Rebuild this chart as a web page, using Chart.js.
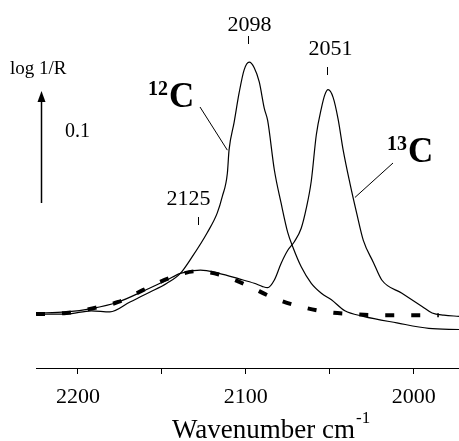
<!DOCTYPE html>
<html>
<head>
<meta charset="utf-8">
<script src="https://cdn.jsdelivr.net/npm/chart.js@4.4.0/dist/chart.umd.min.js"></script>
<style>
    html, body { margin: 0; padding: 0; background: #fff; }
    #wrap { width: 459px; height: 441px; }
</style>
</head>
<body>
<div id="wrap"><canvas id="chart"></canvas></div>
<script>
// wavenumber (cm-1) / log 1/R readings, left to right
const wn12C = [2225, 2207, 2192, 2181, 2169, 2157, 2147, 2139, 2132, 2123, 2117, 2114, 2111, 2110, 2107, 2104,
    2101, 2098, 2095, 2092, 2089, 2087, 2083, 2079, 2075, 2072, 2067, 2061, 2055, 2049, 2041, 2030, 2010, 1991, 1973];
const abs12C = [0.049, 0.049, 0.052, 0.051, 0.060, 0.069, 0.077, 0.086, 0.101, 0.123, 0.141, 0.156, 0.177, 0.198, 0.223, 0.250,
    0.271, 0.278, 0.273, 0.260, 0.236, 0.225, 0.180, 0.150, 0.123, 0.110, 0.092, 0.077, 0.068, 0.062, 0.052, 0.047, 0.041, 0.036, 0.035];

const wn13C = [2225, 2207, 2192, 2176, 2161, 2147, 2139, 2127, 2116, 2104, 2095, 2090, 2087, 2083, 2079, 2075, 2071, 2067,
    2064, 2061, 2058, 2055, 2053, 2051, 2048, 2045, 2042, 2038, 2034, 2030, 2024, 2019, 2007, 1995, 1989, 1982, 1973];
const abs13C = [0.050, 0.051, 0.054, 0.060, 0.070, 0.080, 0.086, 0.089, 0.086, 0.081, 0.077, 0.074, 0.073, 0.080, 0.095, 0.107, 0.115, 0.127,
    0.145, 0.170, 0.212, 0.236, 0.248, 0.253, 0.246, 0.226, 0.198, 0.168, 0.141, 0.116, 0.096, 0.080, 0.068, 0.056, 0.050, 0.048, 0.047];

const wnFit = [2225, 2207, 2192, 2176, 2161, 2145, 2129, 2116, 2099, 2084, 2068, 2052, 2036, 2021, 2005, 1989, 1985];
const absFit = [0.049, 0.050, 0.054, 0.060, 0.071, 0.082, 0.088, 0.085, 0.075, 0.064, 0.056, 0.051, 0.049, 0.048, 0.048, 0.048, 0.048];

const axisTicks = [2200, 2150, 2100, 2050, 2000];
const labelledTicks = [2200, 2100, 2000];

const peakLabels = ['2098', '2051', '2125'];
const peakWavenumbers = [2098, 2051, 2128];

const scaleBar = [0.15, 0.25];  // arrow = 0.1 log 1/R

const serif = "'Liberation Serif', 'Times New Roman', serif";

const toPoints = (xs, ys) => xs.map((x, i) => ({x: x, y: ys[i]}));

const annotate = {
    id: 'annotate',
    afterDraw(chart) {
        const {ctx, scales: {x, y}} = chart;
        ctx.save();
        ctx.fillStyle = '#000';
        ctx.strokeStyle = '#000';
        ctx.lineWidth = 1;

        // peak position markers
        const layout = [{base: 31, tick: 36, dx: 0}, {base: 55, tick: 67, dx: 2}, {base: 205, tick: 217, dx: -11}];
        ctx.font = '22px ' + serif;
        ctx.textAlign = 'center';
        peakLabels.forEach((txt, i) => {
            const px = Math.round(x.getPixelForValue(peakWavenumbers[i])) + 0.5;
            ctx.fillText(txt, px + layout[i].dx, layout[i].base);
            ctx.beginPath();
            ctx.moveTo(px - 1, layout[i].tick);
            ctx.lineTo(px - 1, layout[i].tick + 8);
            ctx.stroke();
        });

        // scale arrow
        const ax = 41.5;
        const y0 = y.getPixelForValue(scaleBar[0]);
        const y1 = y.getPixelForValue(scaleBar[1]);
        ctx.beginPath();
        ctx.moveTo(ax, y0);
        ctx.lineTo(ax, y1 + 8);
        ctx.lineWidth = 1.5;
        ctx.stroke();
        ctx.beginPath();
        ctx.moveTo(ax, y1 - 2);
        ctx.lineTo(ax - 4, y1 + 9);
        ctx.lineTo(ax + 4, y1 + 9);
        ctx.closePath();
        ctx.fill();
        ctx.lineWidth = 1;

        ctx.textAlign = 'left';
        ctx.font = '19px ' + serif;
        ctx.fillText('log 1/R', 10, 74);
        ctx.font = '20px ' + serif;
        ctx.fillText('0.1', 65, 137);

        // isotope labels
        const isotope = (sup, left, base) => {
            ctx.font = 'bold 20px ' + serif;
            ctx.fillText(sup, left, base - 12);
            const w = ctx.measureText(sup).width;
            ctx.font = 'bold 35px ' + serif;
            ctx.fillText('C', left + w + 1, base);
        };
        isotope('12', 148, 107);
        isotope('13', 387, 162);

        ctx.beginPath();
        ctx.moveTo(200, 107);
        ctx.lineTo(x.getPixelForValue(2111), y.getPixelForValue(0.198));
        ctx.moveTo(393, 163);
        ctx.lineTo(x.getPixelForValue(2035), y.getPixelForValue(0.155));
        ctx.stroke();

        // axis title
        ctx.font = '27px ' + serif;
        const main = 'Wavenumber cm';
        ctx.fillText(main, 172, 438);
        const mw = ctx.measureText(main).width;
        ctx.font = '17px ' + serif;
        ctx.fillText('-1', 172 + mw + 1, 423);
        ctx.restore();
    }
};

new Chart(document.getElementById('chart'), {
    type: 'line',
    data: {
        datasets: [
            {
                label: '12C',
                data: toPoints(wn12C, abs12C),
                borderColor: '#000',
                borderWidth: 1.2,
                pointRadius: 0,
                cubicInterpolationMode: 'monotone'
            },
            {
                label: '13C',
                data: toPoints(wn13C, abs13C),
                borderColor: '#000',
                borderWidth: 1.2,
                pointRadius: 0,
                cubicInterpolationMode: 'monotone'
            },
            {
                label: 'fit',
                data: toPoints(wnFit, absFit),
                borderColor: '#000',
                borderWidth: 4,
                borderDash: [9, 17],
                borderCapStyle: 'butt',
                pointRadius: 0,
                cubicInterpolationMode: 'monotone'
            }
        ]
    },
    options: {
        responsive: true,
        maintainAspectRatio: false,
        animation: false,
        layout: {padding: {left: 36, right: 0, top: 0, bottom: 0}},
        plugins: {
            legend: {display: false},
            tooltip: {enabled: false}
        },
        scales: {
            x: {
                type: 'linear',
                reverse: true,
                min: 1973,
                max: 2225,
                afterBuildTicks: scale => {
                    scale.ticks = axisTicks.map(v => ({value: v}));
                },
                afterFit: scale => {
                    scale.height = 73;
                },
                ticks: {
                    autoSkip: false,
                    maxRotation: 0,
                    padding: 10,
                    color: '#000',
                    font: {family: serif, size: 22},
                    callback: value => labelledTicks.includes(value) ? String(value) : ''
                },
                grid: {
                    drawOnChartArea: false,
                    drawTicks: true,
                    tickLength: 6,
                    color: '#000'
                },
                border: {display: true, color: '#000', width: 1}
            },
            y: {
                display: false,
                min: 0,
                max: 0.3345
            }
        }
    },
    plugins: [annotate]
});
</script>
</body>
</html>
